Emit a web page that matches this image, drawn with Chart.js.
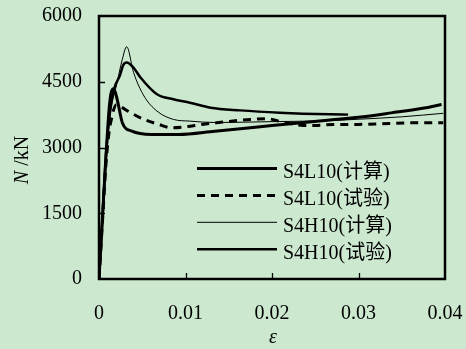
<!DOCTYPE html>
<html>
<head>
<meta charset="utf-8">
<script src="https://cdn.jsdelivr.net/npm/chart.js@4"></script>
<style>
  body { margin: 0; background: #cce8cf; }
  canvas { display: block; }
</style>
</head>
<body>
<canvas id="nChart" width="466" height="349"></canvas>
<script>
// strain (ε) and axial load N (kN)
const l10CalcEps = [0, 0.0004, 0.0008, 0.00105, 0.0012, 0.0014, 0.0017, 0.0021, 0.0027, 0.0038, 0.0061, 0.0092, 0.0134, 0.02, 0.0267, 0.03, 0.0338, 0.0376, 0.0396];
const l10CalcN   = [0, 1400, 2800, 3560, 3950, 4250, 4340, 4100, 3565, 3373, 3298, 3298, 3373, 3500, 3630, 3690, 3790, 3900, 3980];

const l10TestEps = [0, 0.0004, 0.0008, 0.0012, 0.00143, 0.0016, 0.002, 0.0026, 0.0036, 0.0052, 0.0069, 0.0084, 0.01, 0.0119, 0.0136, 0.0175, 0.0194, 0.0211, 0.0236, 0.0253, 0.0271, 0.03, 0.0336, 0.0375, 0.0398];
const l10TestN   = [0, 1300, 2600, 3412, 3641, 3800, 3975, 3920, 3800, 3641, 3527, 3451, 3474, 3527, 3565, 3641, 3657, 3588, 3504, 3504, 3527, 3527, 3550, 3565, 3565];

const h10CalcEps = [0, 0.0004, 0.0008, 0.0012, 0.00143, 0.002, 0.0027, 0.0032, 0.004, 0.0052, 0.0067, 0.0086, 0.0105, 0.0134, 0.02, 0.026, 0.03, 0.035, 0.0398];
const h10CalcN   = [0, 1400, 2800, 3600, 3946, 4403, 5015, 5300, 4710, 4175, 3831, 3641, 3602, 3570, 3590, 3610, 3645, 3700, 3780];

const h10TestEps = [0, 0.0004, 0.0008, 0.0012, 0.0018, 0.0024, 0.0028, 0.0032, 0.004, 0.0048, 0.0067, 0.0086, 0.0105, 0.0129, 0.0163, 0.0209, 0.0267, 0.0288];
const h10TestN   = [0, 1400, 2800, 3700, 4367, 4633, 4880, 4940, 4820, 4596, 4214, 4100, 4023, 3909, 3847, 3794, 3756, 3750];

const seriesNames = ['S4L10(计算)', 'S4L10(试验)', 'S4H10(计算)', 'S4H10(试验)'];
const xTickLabels = ['0', '0.01', '0.02', '0.03', '0.04'];
const yTickLabels = ['0', '1500', '3000', '4500', '6000'];

const FONT = "'Liberation Serif', 'Times New Roman', 'Noto Sans CJK SC', serif";
const BG = '#cce8cf';

function pts(xs, ys) {
    return xs.map((x, i) => ({ x: x, y: ys[i] }));
}

// no extra room for the end labels, the layout padding takes care of it
function noLabelPadding(s) {
    s.paddingLeft = 0;
    s.paddingRight = 0;
    s.paddingTop = 0;
    s.paddingBottom = 0;
}

// background, frame, inward ticks, axis titles and the legend
const decor = {
    id: 'decor',
    beforeDraw(chart) {
        const ctx = chart.ctx;
        ctx.save();
        ctx.fillStyle = BG;
        ctx.fillRect(0, 0, chart.width, chart.height);
        ctx.restore();
    },
    afterDraw(chart) {
        const ctx = chart.ctx;
        const a = chart.chartArea;
        const xs = chart.scales.x, ys = chart.scales.y;
        ctx.save();
        ctx.strokeStyle = '#000';

        // inward tick marks
        ctx.lineWidth = 1.3;
        ctx.beginPath();
        ys.ticks.forEach(t => {
            if (t.value <= ys.min || t.value >= ys.max) return;
            const py = Math.round(ys.getPixelForValue(t.value)) + 0.5;
            ctx.moveTo(a.left, py);
            ctx.lineTo(a.left + 6, py);
        });
        xs.ticks.forEach(t => {
            if (t.value <= xs.min || t.value >= xs.max) return;
            const px = Math.round(xs.getPixelForValue(t.value)) + 0.5;
            ctx.moveTo(px, a.bottom);
            ctx.lineTo(px, a.bottom - 6);
        });
        ctx.stroke();

        // frame
        ctx.lineWidth = 2.5;
        ctx.strokeRect(a.left, a.top, a.right - a.left, a.bottom - a.top);

        // axis titles
        ctx.fillStyle = '#000';
        ctx.textBaseline = 'middle';
        ctx.font = 'italic 20px ' + FONT;
        ctx.textAlign = 'center';
        ctx.fillText('ε', 273, 338);

        ctx.save();
        ctx.translate(23, 160);
        ctx.rotate(-Math.PI / 2);
        ctx.font = 'italic 20px ' + FONT;
        const wN = ctx.measureText('N').width;
        ctx.font = '20px ' + FONT;
        const wRest = ctx.measureText(' /kN').width;
        let x0 = -(wN + wRest) / 2;
        ctx.textAlign = 'left';
        ctx.font = 'italic 20px ' + FONT;
        ctx.fillText('N', x0, 0);
        ctx.font = '20px ' + FONT;
        ctx.fillText(' /kN', x0 + wN, 0);
        ctx.restore();

        // legend
        ctx.textAlign = 'left';
        ctx.textBaseline = 'alphabetic';
        ctx.font = '20px ' + FONT;
        chart.data.datasets.forEach((ds, i) => {
            const ly = 168.5 + i * 26.9;
            ctx.lineWidth = ds.borderWidth;
            ctx.setLineDash(ds.borderDash || []);
            ctx.beginPath();
            ctx.moveTo(197, ly);
            ctx.lineTo(277, ly);
            ctx.stroke();
            ctx.setLineDash([]);
            ctx.fillText(ds.label, 283, ly + 9.5);
        });
        ctx.restore();
    }
};

const common = {
    borderColor: '#000',
    pointRadius: 0,
    fill: false,
    cubicInterpolationMode: 'monotone'
};

new Chart(document.getElementById('nChart'), {
    type: 'line',
    data: {
        datasets: [
            { ...common, label: seriesNames[0], data: pts(l10CalcEps, l10CalcN), borderWidth: 3 },
            { ...common, label: seriesNames[1], data: pts(l10TestEps, l10TestN), borderWidth: 3, borderDash: [8, 6] },
            { ...common, label: seriesNames[2], data: pts(h10CalcEps, h10CalcN), borderWidth: 1 },
            { ...common, label: seriesNames[3], data: pts(h10TestEps, h10TestN), borderWidth: 2.5 }
        ]
    },
    options: {
        responsive: false,
        animation: false,
        layout: { padding: { top: 16, right: 21, left: 0, bottom: 0 } },
        plugins: {
            legend: { display: false },
            tooltip: { enabled: false }
        },
        scales: {
            x: {
                type: 'linear',
                min: 0,
                max: 0.04,
                afterFit: s => { s.height = 70; noLabelPadding(s); },
                grid: { display: false, drawTicks: false },
                border: { display: false },
                ticks: {
                    stepSize: 0.01,
                    maxRotation: 0,
                    autoSkip: false,
                    padding: 23,
                    color: '#000',
                    font: { family: FONT, size: 20 },
                    callback: (v, i) => xTickLabels[i]
                }
            },
            y: {
                min: 0,
                max: 6000,
                afterFit: s => { s.width = 99; noLabelPadding(s); },
                grid: { display: false, drawTicks: false },
                border: { display: false },
                ticks: {
                    stepSize: 1500,
                    autoSkip: false,
                    padding: 17,
                    color: '#000',
                    font: { family: FONT, size: 20 },
                    callback: (v, i) => yTickLabels[i]
                }
            }
        }
    },
    plugins: [decor]
});
</script>
</body>
</html>
